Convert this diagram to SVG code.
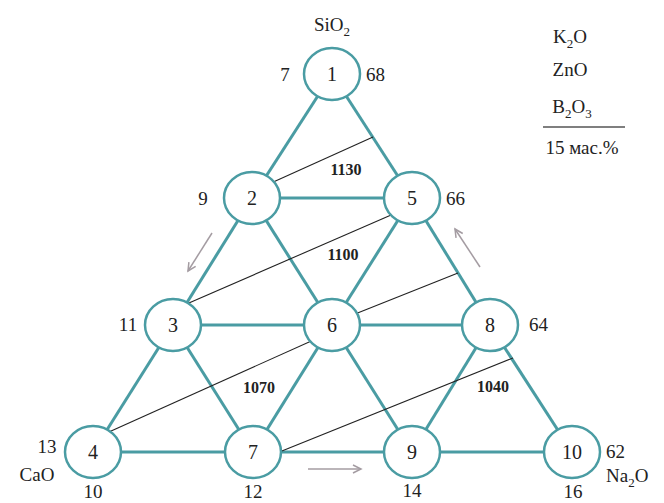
<svg xmlns="http://www.w3.org/2000/svg" width="664" height="503" viewBox="0 0 664 503">
<style>
text{font-family:"Liberation Serif","Times New Roman",serif;fill:#222}
.edge{stroke:#4a9ca3;stroke-width:3;fill:none}
.node ellipse{fill:#fff;stroke:#4a9ca3;stroke-width:2.5}
.num{font-size:20px;text-anchor:middle}
.lbl{font-size:19px}
.iso{stroke:#222;stroke-width:1.1;fill:none}
.isol{font-size:16px;font-weight:bold;text-anchor:middle}
.arr{stroke:#a49ca2;stroke-width:1.5;fill:none;marker-end:url(#ah)}
</style>
<defs>
<marker id="ah" markerWidth="12" markerHeight="10" refX="9" refY="5" orient="auto" markerUnits="userSpaceOnUse">
<path d="M1,1 L9,5 L1,9" fill="none" stroke="#a49ca2" stroke-width="1.5"/>
</marker>
</defs>
<rect width="664" height="503" fill="#fff"/>
<g id="connectors">
<line class="edge" x1="332" y1="74" x2="252" y2="198"/>
<line class="edge" x1="332" y1="74" x2="412" y2="198"/>
<line class="edge" x1="252" y1="198" x2="412" y2="198"/>
<line class="edge" x1="252" y1="198" x2="173" y2="325"/>
<line class="edge" x1="252" y1="198" x2="332" y2="325"/>
<line class="edge" x1="412" y1="198" x2="332" y2="325"/>
<line class="edge" x1="412" y1="198" x2="490" y2="325"/>
<line class="edge" x1="173" y1="325" x2="490" y2="325"/>
<line class="edge" x1="173" y1="325" x2="93" y2="452"/>
<line class="edge" x1="173" y1="325" x2="253" y2="452"/>
<line class="edge" x1="332" y1="325" x2="253" y2="452"/>
<line class="edge" x1="332" y1="325" x2="412" y2="452"/>
<line class="edge" x1="490" y1="325" x2="412" y2="452"/>
<line class="edge" x1="490" y1="325" x2="572" y2="452"/>
<line class="edge" x1="93" y1="452" x2="572" y2="452"/>
</g>
<g id="isotherms">
<line class="iso" x1="260" y1="188" x2="373" y2="137"/>
<line class="iso" x1="182" y1="306" x2="398" y2="212"/>
<line class="iso" x1="345" y1="318" x2="458" y2="273"/>
<line class="iso" x1="100" y1="436" x2="318" y2="338"/>
<line class="iso" x1="262" y1="459" x2="513" y2="358"/>
<text class="isol" x="346" y="175">1130</text>
<text class="isol" x="343" y="260">1100</text>
<text class="isol" x="259" y="393">1070</text>
<text class="isol" x="493" y="392">1040</text>
</g>
<g id="arrows">
<line class="arr" x1="212" y1="233" x2="188" y2="271"/>
<line class="arr" x1="480" y1="267" x2="455" y2="229"/>
<line class="arr" x1="308" y1="469" x2="361" y2="469"/>
</g>
<g id="node1" class="node"><ellipse cx="332" cy="74" rx="28" ry="26"/><text class="num" x="332" y="81">1</text></g>
<g id="node2" class="node"><ellipse cx="252" cy="198" rx="28" ry="26"/><text class="num" x="252" y="205">2</text></g>
<g id="node5" class="node"><ellipse cx="412" cy="198" rx="28" ry="26"/><text class="num" x="412" y="205">5</text></g>
<g id="node3" class="node"><ellipse cx="173" cy="325" rx="28" ry="26"/><text class="num" x="173" y="332">3</text></g>
<g id="node6" class="node"><ellipse cx="332" cy="325" rx="28" ry="26"/><text class="num" x="332" y="332">6</text></g>
<g id="node8" class="node"><ellipse cx="490" cy="325" rx="28" ry="26"/><text class="num" x="490" y="332">8</text></g>
<g id="node4" class="node"><ellipse cx="93" cy="452" rx="28" ry="26"/><text class="num" x="93" y="459">4</text></g>
<g id="node7" class="node"><ellipse cx="253" cy="452" rx="28" ry="26"/><text class="num" x="253" y="459">7</text></g>
<g id="node9" class="node"><ellipse cx="412" cy="452" rx="28" ry="26"/><text class="num" x="412" y="459">9</text></g>
<g id="node10" class="node"><ellipse cx="572" cy="452" rx="28" ry="26"/><text class="num" x="572" y="459">10</text></g>
<g id="labels" class="lbl">
<text x="332" y="31" text-anchor="middle">SiO<tspan font-size="13" dy="5">2</tspan></text>
<text x="285" y="81" text-anchor="middle">7</text>
<text x="366" y="81">68</text>
<text x="203" y="205" text-anchor="middle">9</text>
<text x="446" y="205">66</text>
<text x="128" y="331" text-anchor="middle">11</text>
<text x="529" y="331">64</text>
<text x="47" y="453" text-anchor="middle">13</text>
<text x="37" y="481" text-anchor="middle">CaO</text>
<text x="93" y="498" text-anchor="middle">10</text>
<text x="253" y="498" text-anchor="middle">12</text>
<text x="412" y="497" text-anchor="middle">14</text>
<text x="573" y="498" text-anchor="middle">16</text>
<text x="606" y="458">62</text>
<text x="606" y="482">Na<tspan font-size="13" dy="5">2</tspan><tspan dy="-5">O</tspan></text>
</g>
<g id="legend" class="lbl">
<text x="570" y="43" text-anchor="middle">K<tspan font-size="13" dy="5">2</tspan><tspan dy="-5">O</tspan></text>
<text x="570" y="76" text-anchor="middle">ZnO</text>
<text x="572" y="113" text-anchor="middle">B<tspan font-size="13" dy="5">2</tspan><tspan dy="-5">O</tspan><tspan font-size="13" dy="5">3</tspan></text>
<line x1="543" y1="127" x2="625" y2="127" stroke="#555" stroke-width="1.5"/>
<text x="582" y="154" text-anchor="middle">15 мас.%</text>
</g>
</svg>
